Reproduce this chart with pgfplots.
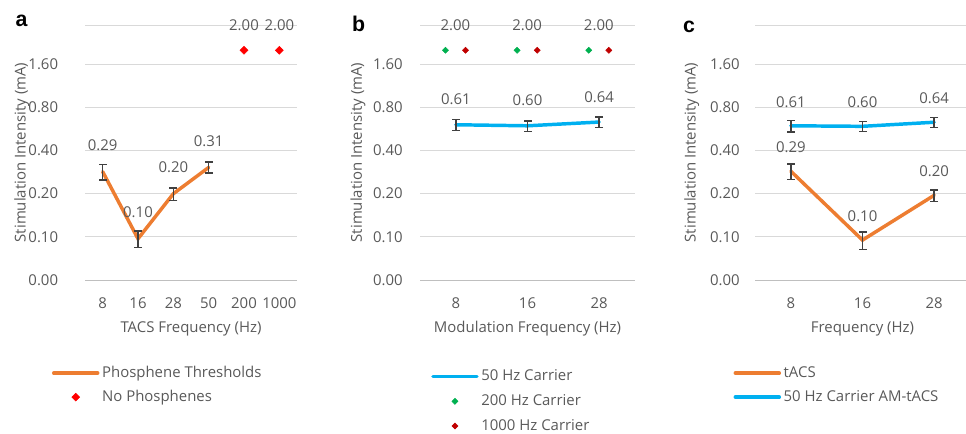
\documentclass[border=0pt]{standalone}
\usepackage{fontspec}
\setmainfont{Open Sans}
\newfontfamily\letterfont{Liberation Sans}
\usepackage{pgfplots}
\pgfplotsset{compat=1.18}
\definecolor{txt}{HTML}{595959}
\definecolor{grd}{HTML}{D9D9D9}
\definecolor{axl}{HTML}{BFBFBF}
\definecolor{orng}{HTML}{ED7D31}
\definecolor{blu}{HTML}{00B0F0}
\definecolor{rd}{HTML}{FF0000}
\definecolor{grn}{HTML}{00B050}
\definecolor{drd}{HTML}{C00000}
\definecolor{errc}{HTML}{404040}
\newcommand{\fs}{\fontsize{11.2}{13}\selectfont}
\pgfplotsset{
  mypanel/.style={
    scale only axis, height=191.25pt,
    y coord trafo/.code={\pgfmathparse{ln(##1)}},
    y coord inv trafo/.code={\pgfmathparse{exp(##1)}},
    ymin=0.05, ymax=3,
    ytick={0.05,0.1,0.2,0.4,0.8,1.6},
    yticklabels={0.00,0.10,0.20,0.40,0.80,1.60},
    ymajorgrids, grid style={grd, line width=0.75pt},
    axis x line*=bottom, axis y line*=left,
    y axis line style={draw=none},
    x axis line style={axl, line width=0.75pt},
    ytick style={draw=none},
    xtick style={draw=none},
    minor tick length=3pt, major tick length=0pt, tick align=outside,
    every minor tick/.append style={axl, line width=0.75pt},
    tick label style={font=\fs, text=txt},
    yticklabel style={anchor=east, inner sep=0pt},
    xticklabel style={anchor=base, inner sep=0pt, yshift=-21pt},
    label style={font=\fs, text=txt},
    xlabel style={at={(axis description cs:0.5,0)}, anchor=base, yshift=-39pt},
    legend cell align=left,
    legend style={anchor=north west, draw=none, fill=none, inner sep=0pt,
      row sep=8pt, font=\fs, text=txt,
      nodes={inner xsep=2pt, inner ysep=0pt, text height=8pt, text depth=2pt}},
  },
  mylineplot/.style={line width=2.6pt, line cap=round, mark=none,
    legend image code/.code={\draw[##1] (0pt,0pt) -- (33pt,0pt);}},
  myerr/.style={errc, line width=1.1pt, mark=-, mark size=3pt,
    mark options={solid, line width=1.1pt}, forget plot},
  mylbl/.style={nodes near coords, point meta=explicit symbolic,
    every node near coord/.append style={anchor=base, inner sep=0pt, yshift=#1, font=\fs, text=txt}},
  mydmd/.style={only marks, mark=square*, mark size=#1, mark options={rotate=45},
    legend image code/.code={%
      \path[draw=none, fill=none] (0pt,-0.5pt) rectangle (33pt,0.5pt);%
      \draw[##1, only marks, draw=none] plot coordinates {(16.5pt,0pt)};}},
}
\begin{document}
\begin{tikzpicture}
\useasboundingbox (0,0) rectangle (724.5pt,-325.5pt);
% ---------------- panel a
\begin{axis}[mypanel, at={(63.75pt,-210pt)}, anchor=south west, width=159pt,
  xmin=0.5, xmax=6.5, xtick={1,2,3,4,5,6}, xticklabels={8,16,28,50,200,1000},
  minor xtick={0.5,1.5,2.5,3.5,4.5,5.5,6.5},
  yticklabel style={xshift=-20pt},
  xlabel={TACS Frequency (Hz)}, ylabel={Stimulation Intensity (mA)},
  ylabel style={at={(axis description cs:-0.2986,0.5)}, anchor=center},
  legend style={at={(axis description cs:-0.157,-0.338)}}]
\draw[grd, line width=0.75pt] (axis description cs:0,1) -- (axis description cs:1,1);
\addplot[orng, mylineplot, mylbl=16pt] table[x=x, y=y, meta=l] {
x y l
1 0.285 0.29
2 0.097 0.10
3 0.200 0.20
4 0.305 0.31
};
\addlegendentry{Phosphene Thresholds}
\addplot[rd, mydmd=2.1pt, mylbl=15pt] table[x=x, y=y, meta=l] {
x y l
5 2.0 2.00
6 2.0 2.00
};
\addlegendentry{No Phosphenes}
\addplot[myerr] coordinates {(1,0.250) (1,0.320)};
\addplot[myerr] coordinates {(2,0.084) (2,0.110)};
\addplot[myerr] coordinates {(3,0.180) (3,0.220)};
\addplot[myerr] coordinates {(4,0.278) (4,0.332)};
\end{axis}
% ---------------- panel b
\begin{axis}[mypanel, at={(315pt,-210pt)}, anchor=south west, width=161.25pt,
  xmin=0.5, xmax=3.5, xtick={1,2,3}, xticklabels={8,16,28},
  minor xtick={0.5,1.5,2.5,3.5},
  yticklabel style={xshift=-12.75pt},
  xlabel={Modulation Frequency (Hz)}, ylabel={Stimulation Intensity (mA)},
  ylabel style={at={(axis description cs:-0.2884,0.5)}, anchor=center},
  legend style={at={(axis description cs:0.051,-0.352)}, row sep=8.5pt}]
\draw[grd, line width=0.75pt] (axis description cs:0,1) -- (axis description cs:1,1);
\addplot[blu, mylineplot, mylbl=15pt] table[x=x, y=y, meta=l] {
x y l
1 0.605 0.61
2 0.595 0.60
3 0.632 0.64
};
\addlegendentry{50 Hz Carrier}
\addplot[grn, mydmd=1.6pt, mylbl=15pt, every node near coord/.append style={xshift=7.5pt}] table[x=x, y=y, meta=l] {
x y l
0.855 2.0 2.00
1.855 2.0 2.00
2.855 2.0 2.00
};
\addlegendentry{200 Hz Carrier}
\addplot[drd, mydmd=1.6pt] table[x=x, y=y] {
x y
1.135 2.0
2.135 2.0
3.135 2.0
};
\addlegendentry{1000 Hz Carrier}
\addplot[myerr] coordinates {(1,0.550) (1,0.660)};
\addplot[myerr] coordinates {(2,0.545) (2,0.645)};
\addplot[myerr] coordinates {(3,0.577) (3,0.687)};
\end{axis}
% ---------------- panel c
\begin{axis}[mypanel, at={(566.25pt,-210pt)}, anchor=south west, width=161.25pt,
  xmin=0.5, xmax=3.5, xtick={1,2,3}, xticklabels={8,16,28},
  minor xtick={0.5,1.5,2.5,3.5},
  yticklabel style={xshift=-11.25pt},
  xlabel={Frequency (Hz)}, ylabel={Stimulation Intensity (mA)},
  ylabel style={at={(axis description cs:-0.2944,0.5)}, anchor=center},
  legend style={at={(axis description cs:-0.101,-0.338)}}]
\draw[grd, line width=0.75pt] (axis description cs:0,1) -- (axis description cs:1,1);
\addplot[orng, mylineplot, mylbl=14pt] table[x=x, y=y, meta=l] {
x y l
1 0.287 0.29
2 0.095 0.10
3 0.195 0.20
};
\addlegendentry{tACS}
\addplot[blu, mylineplot, mylbl=14pt] table[x=x, y=y, meta=l] {
x y l
1 0.595 0.61
2 0.590 0.60
3 0.630 0.64
};
\addlegendentry{50 Hz Carrier AM-tACS}
\addplot[myerr] coordinates {(1,0.252) (1,0.322)};
\addplot[myerr] coordinates {(2,0.082) (2,0.108)};
\addplot[myerr] coordinates {(3,0.177) (3,0.213)};
\addplot[myerr] coordinates {(1,0.540) (1,0.650)};
\addplot[myerr] coordinates {(2,0.545) (2,0.635)};
\addplot[myerr] coordinates {(3,0.580) (3,0.680)};
\end{axis}
% panel letters
\node[anchor=base, font=\letterfont\bfseries\fontsize{16}{16}\selectfont] at (16.1pt,-20.25pt) {a};
\node[anchor=base, font=\letterfont\bfseries\fontsize{16}{16}\selectfont] at (268.9pt,-24pt) {b};
\node[anchor=base, font=\letterfont\bfseries\fontsize{16}{16}\selectfont] at (516.75pt,-24.2pt) {c};
\end{tikzpicture}
\end{document}
